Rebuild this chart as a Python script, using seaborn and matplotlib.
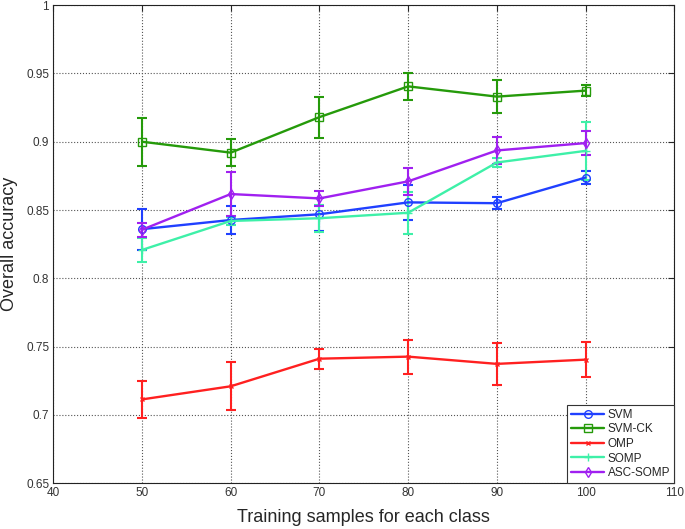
import numpy as np
import pandas as pd
import matplotlib
matplotlib.use('Agg')
import matplotlib.pyplot as plt
import seaborn as sns

# 데이터
samples = [50, 60, 70, 80, 90, 100]
methods = ['SVM', 'SVM-CK', 'OMP', 'SOMP', 'ASC-SOMP']

svm = [0.836, 0.8427, 0.8469, 0.8556, 0.855, 0.8738]
svm_err = [0.015, 0.010, 0.012, 0.013, 0.0045, 0.0045]
svmck = [0.900, 0.892, 0.918, 0.9405, 0.933, 0.9374]
svmck_err = [0.0175, 0.010, 0.015, 0.010, 0.012, 0.004]
omp = [0.7114, 0.721, 0.7412, 0.7427, 0.7374, 0.7405]
omp_err = [0.0135, 0.0175, 0.0073, 0.0124, 0.0156, 0.0129]
somp = [0.8208, 0.842, 0.844, 0.848, 0.8848, 0.8933]
somp_err = [0.009, 0.003, 0.010, 0.0155, 0.003, 0.021]
ascsomp = [0.8356, 0.8617, 0.8585, 0.871, 0.8936, 0.899]
ascsomp_err = [0.005, 0.016, 0.0055, 0.010, 0.010, 0.009]

means = [svm, svmck, omp, somp, ascsomp]
errs = [svm_err, svmck_err, omp_err, somp_err, ascsomp_err]

xticks = [40, 50, 60, 70, 80, 90, 100, 110]
yticks = [0.65, 0.7, 0.75, 0.8, 0.85, 0.9, 0.95, 1.0]
ytick_labels = ['0.65', '0.7', '0.75', '0.8', '0.85', '0.9', '0.95', '1']

colors = ['#2040ff', '#259a0a', '#ff2020', '#3ef0a8', '#a020f0']
markers = ['o', 's', 'x', '+', 'd']
msizes = [5.5, 5.5, 3.5, 6, 5]

rows = []
for m, mu, e in zip(methods, means, errs):
    for x, v, s in zip(samples, mu, e):
        rows.append({'samples': x, 'acc': v, 'err': s, 'method': m})
df = pd.DataFrame(rows)

sns.set_style('white')
plt.rcParams['font.family'] = ['Liberation Sans', 'DejaVu Sans']

fig = plt.figure(figsize=(6.85, 5.29), dpi=100)
ax = fig.add_axes([0.0778, 0.0864, 0.9066, 0.904])

for m, c, mk, ms in zip(methods, colors, markers, msizes):
    sub = df[df['method'] == m]
    ax.errorbar(sub['samples'], sub['acc'], yerr=sub['err'], fmt='none',
                ecolor=c, elinewidth=1.5, capsize=3.3, capthick=1.5, zorder=2)
    sns.lineplot(data=sub, x='samples', y='acc', ax=ax, color=c, marker=mk,
                 markersize=ms, markerfacecolor='none', markeredgecolor=c,
                 markeredgewidth=1.0, linewidth=1.7, label=m, zorder=3)

ax.set_xlim(40, 110)
ax.set_ylim(0.65, 1.0)
ax.set_xticks(xticks)
ax.set_yticks(yticks)
ax.set_yticklabels(ytick_labels)
ax.tick_params(direction='in', labelsize=8.5, length=4, top=True, right=True,
               labeltop=False, labelright=False, labelcolor='#333333', pad=3)
ax.grid(True, linestyle=':', color='#555555', linewidth=0.8)
for sp in ax.spines.values():
    sp.set_color('#222222')
    sp.set_linewidth(0.8)

ax.set_xlabel('Training samples for each class', fontsize=13, labelpad=7)
ax.set_ylabel('Overall accuracy', fontsize=13, labelpad=6)

leg = ax.legend(loc='lower right', fontsize=8.5, frameon=True, fancybox=False,
                edgecolor='#333333', framealpha=1, borderaxespad=0,
                handlelength=2.8, handletextpad=0.3, labelspacing=0.22,
                borderpad=0.35)
leg.get_frame().set_linewidth(0.8)

plt.savefig('out.png', dpi=100)
